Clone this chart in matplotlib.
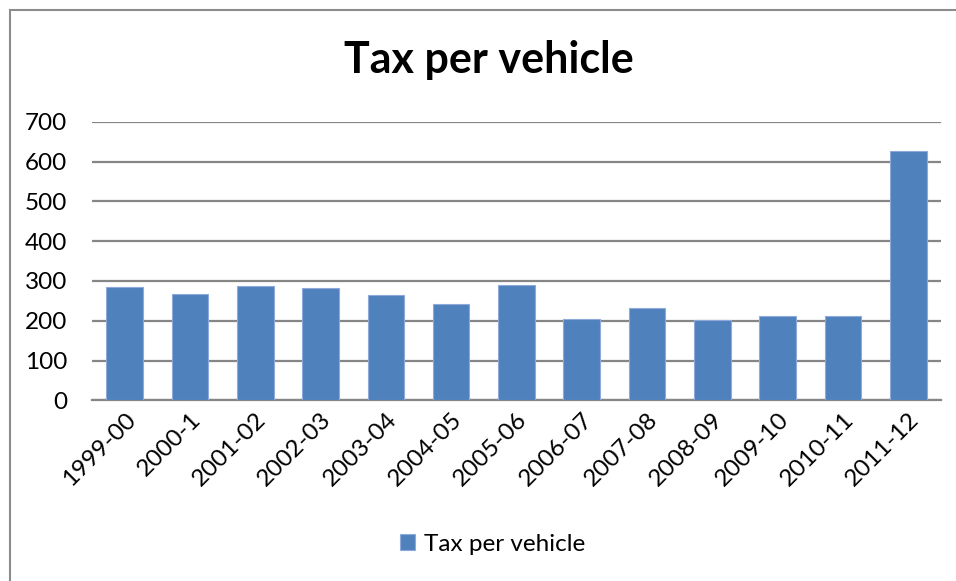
import matplotlib.pyplot as plt
from matplotlib.patches import Rectangle

# tax per vehicle by financial year
years = ["1999-00", "2000-1", "2001-02", "2002-03", "2003-04", "2004-05",
         "2005-06", "2006-07", "2007-08", "2008-09", "2009-10", "2010-11",
         "2011-12"]
tax = [284, 267, 286, 283, 264, 243, 290, 204, 231, 202, 213, 213, 626]

plt.rcParams['font.family'] = ['Lato', 'DejaVu Sans']

fig = plt.figure(figsize=(9.56, 5.81), dpi=100)
ax = fig.add_axes([0.0962, 0.311, 0.888, 0.4795])

# outer chart frame
fig.patches.append(Rectangle((9.5 / 956, -0.1), 1.2, 1 - 9.5 / 581 + 0.1,
                             transform=fig.transFigure, fill=False,
                             edgecolor='#8c8c8c', linewidth=1.5))

x = range(len(years))
ax.bar(x, tax, width=0.56, color='#4F81BD', edgecolor='#8EAADB',
       linewidth=0.8, label='Tax per vehicle', zorder=3)

ax.set_xlim(-0.5, len(years) - 0.5)
ax.set_ylim(0, 700)
ax.set_yticks(range(0, 701, 100))
ax.yaxis.grid(True, color='#868686', linewidth=1.6, zorder=0)
for s in ['left', 'right', 'top']:
    ax.spines[s].set_visible(False)
ax.spines['bottom'].set_color('#868686')
ax.spines['bottom'].set_linewidth(1.6)
ax.tick_params(axis='y', length=0, pad=18, labelsize=17.5)
ax.tick_params(axis='x', length=0, pad=6, labelsize=17.5)
ax.set_xticks(list(x))
ax.set_xticklabels(years, rotation=45, ha='right', rotation_mode='anchor')

fig.text(0.511, 0.896, 'Tax per vehicle', ha='center', va='center',
         fontsize=31, fontweight='bold')

fig.legend(loc='center', bbox_to_anchor=(0.515, 0.063), frameon=False,
           fontsize=17.5, handlelength=0.65, handleheight=0.65,
           handletextpad=0.35)

fig.savefig('out.png', dpi=100)
